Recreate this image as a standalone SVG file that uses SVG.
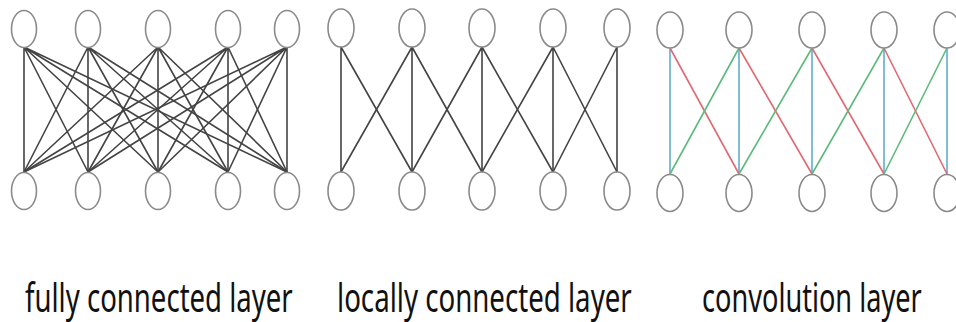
<svg xmlns="http://www.w3.org/2000/svg" width="956" height="322" viewBox="0 0 956 322">
  <style>
    .node { fill: #ffffff; stroke: #8a8a8a; stroke-width: 1.6; }
    .edge { stroke: #444444; stroke-width: 1.6; fill: none; }
    .blue { stroke: #5aa6d0; stroke-width: 1.5; fill: none; }
    .red { stroke: #e26872; stroke-width: 1.6; fill: none; }
    .green { stroke: #5cba7c; stroke-width: 1.6; fill: none; }
    .label { font-family: "Noto Sans", "Open Sans", sans-serif; font-size: 40px; fill: #111111; }
  </style>
  <rect width="956" height="322" fill="#ffffff"/>

  <!-- connectors -->
  <g id="connectors">
    <!-- fully connected: every top unit to every bottom unit -->
    <g id="fc-edges">
      <path class="edge" d="M24 47 L24 172 M24 47 L88 172 M24 47 L158 172 M24 47 L228 172 M24 47 L287 172"/>
      <path class="edge" d="M88 47 L24 172 M88 47 L88 172 M88 47 L158 172 M88 47 L228 172 M88 47 L287 172"/>
      <path class="edge" d="M158 47 L24 172 M158 47 L88 172 M158 47 L158 172 M158 47 L228 172 M158 47 L287 172"/>
      <path class="edge" d="M228 47 L24 172 M228 47 L88 172 M228 47 L158 172 M228 47 L228 172 M228 47 L287 172"/>
      <path class="edge" d="M287 47 L24 172 M287 47 L88 172 M287 47 L158 172 M287 47 L228 172 M287 47 L287 172"/>
    </g>
    <!-- locally connected: each top unit to its three nearest bottom units -->
    <g id="lc-edges">
      <path class="edge" d="M341 47 L341 172 M341 47 L412 172"/>
      <path class="edge" d="M412 47 L341 172 M412 47 L412 172 M412 47 L482 172"/>
      <path class="edge" d="M482 47 L412 172 M482 47 L482 172 M482 47 L553 172"/>
      <path class="edge" d="M553 47 L482 172 M553 47 L553 172 M553 47 L617 172"/>
      <path class="edge" d="M617 47 L553 172 M617 47 L617 172"/>
    </g>
    <!-- convolution: shared weights, one colour per kernel tap -->
    <g id="conv-edges">
      <path class="blue" d="M670 48 L670 174 M739 48 L739 174 M812 48 L812 174 M884 48 L884 174 M947 48 L947 174"/>
      <path class="red" d="M670 48 L739 174 M739 48 L812 174 M812 48 L884 174 M884 48 L947 174"/>
      <path class="green" d="M739 48 L670 174 M812 48 L739 174 M884 48 L812 174 M947 48 L884 174"/>
    </g>
  </g>

  <!-- fully connected layer units -->
  <g id="fc-top-0"><ellipse class="node" cx="24" cy="29" rx="12.5" ry="18.5"/></g>
  <g id="fc-top-1"><ellipse class="node" cx="88" cy="29" rx="12.5" ry="18.5"/></g>
  <g id="fc-top-2"><ellipse class="node" cx="158" cy="29" rx="12.5" ry="18.5"/></g>
  <g id="fc-top-3"><ellipse class="node" cx="228" cy="29" rx="12.5" ry="18.5"/></g>
  <g id="fc-top-4"><ellipse class="node" cx="287" cy="29" rx="12.5" ry="18.5"/></g>
  <g id="fc-bot-0"><ellipse class="node" cx="24" cy="191" rx="12.5" ry="18.5"/></g>
  <g id="fc-bot-1"><ellipse class="node" cx="88" cy="191" rx="12.5" ry="18.5"/></g>
  <g id="fc-bot-2"><ellipse class="node" cx="158" cy="191" rx="12.5" ry="18.5"/></g>
  <g id="fc-bot-3"><ellipse class="node" cx="228" cy="191" rx="12.5" ry="18.5"/></g>
  <g id="fc-bot-4"><ellipse class="node" cx="287" cy="191" rx="12.5" ry="18.5"/></g>

  <!-- locally connected layer units -->
  <g id="lc-top-0"><ellipse class="node" cx="341" cy="28" rx="13" ry="19"/></g>
  <g id="lc-top-1"><ellipse class="node" cx="412" cy="28" rx="13" ry="19"/></g>
  <g id="lc-top-2"><ellipse class="node" cx="482" cy="28" rx="13" ry="19"/></g>
  <g id="lc-top-3"><ellipse class="node" cx="553" cy="28" rx="13" ry="19"/></g>
  <g id="lc-top-4"><ellipse class="node" cx="617" cy="28" rx="13" ry="19"/></g>
  <g id="lc-bot-0"><ellipse class="node" cx="341" cy="191" rx="13" ry="19"/></g>
  <g id="lc-bot-1"><ellipse class="node" cx="412" cy="191" rx="13" ry="19"/></g>
  <g id="lc-bot-2"><ellipse class="node" cx="482" cy="191" rx="13" ry="19"/></g>
  <g id="lc-bot-3"><ellipse class="node" cx="553" cy="191" rx="13" ry="19"/></g>
  <g id="lc-bot-4"><ellipse class="node" cx="617" cy="191" rx="13" ry="19"/></g>

  <!-- convolution layer units -->
  <g id="cv-top-0"><ellipse class="node" cx="670" cy="30" rx="13" ry="18"/></g>
  <g id="cv-top-1"><ellipse class="node" cx="739" cy="30" rx="13" ry="18"/></g>
  <g id="cv-top-2"><ellipse class="node" cx="812" cy="30" rx="13" ry="18"/></g>
  <g id="cv-top-3"><ellipse class="node" cx="884" cy="30" rx="13" ry="18"/></g>
  <g id="cv-top-4"><ellipse class="node" cx="947" cy="30" rx="13" ry="18"/></g>
  <g id="cv-bot-0"><ellipse class="node" cx="670" cy="193" rx="13" ry="18.5"/></g>
  <g id="cv-bot-1"><ellipse class="node" cx="739" cy="193" rx="13" ry="18.5"/></g>
  <g id="cv-bot-2"><ellipse class="node" cx="812" cy="193" rx="13" ry="18.5"/></g>
  <g id="cv-bot-3"><ellipse class="node" cx="884" cy="193" rx="13" ry="18.5"/></g>
  <g id="cv-bot-4"><ellipse class="node" cx="947" cy="193" rx="13" ry="18.5"/></g>

  <!-- captions, set in a horizontally condensed face -->
  <g id="captions">
    <text class="label" transform="translate(25 312) scale(0.75 1)" x="0" y="0" textLength="357" lengthAdjust="spacingAndGlyphs">fully connected layer</text>
    <text class="label" transform="translate(337 312) scale(0.75 1)" x="0" y="0" textLength="393" lengthAdjust="spacingAndGlyphs">locally connected layer</text>
    <text class="label" transform="translate(702 312) scale(0.75 1)" x="0" y="0" textLength="293" lengthAdjust="spacingAndGlyphs">convolution layer</text>
  </g>
</svg>
